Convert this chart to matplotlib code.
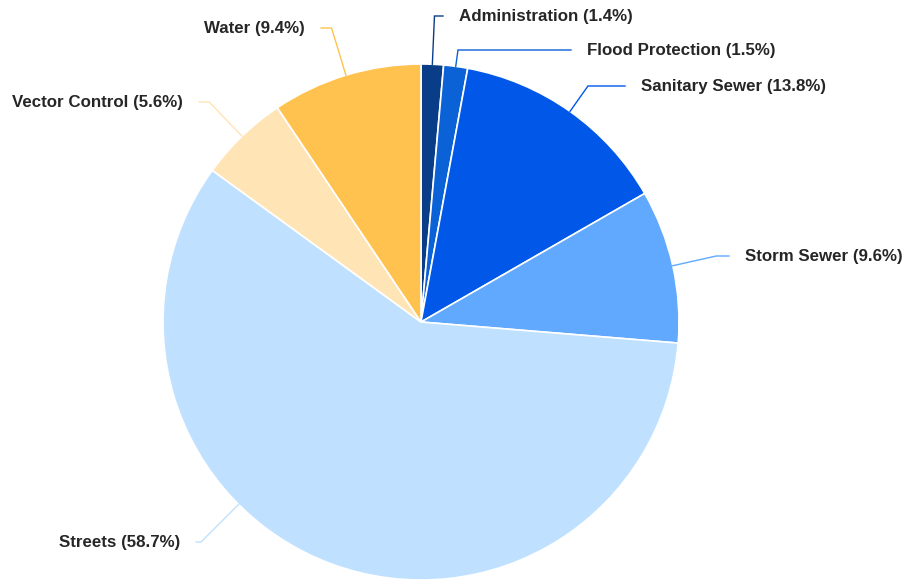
import numpy as np
import matplotlib
matplotlib.use("Agg")
import matplotlib.pyplot as plt

# data
categories = ["Administration", "Flood Protection", "Sanitary Sewer", "Storm Sewer",
              "Streets", "Vector Control", "Water"]
shares = [1.4, 1.5, 13.8, 9.6, 58.7, 5.6, 9.4]
colors = ["#093d88", "#0b62d6", "#0057e8", "#60a9ff", "#bfe1ff", "#ffe4b6", "#ffc24f"]

# layout of the labels (pixel y of label row, side, leader angle override)
label_y = [16, 50, 86, 256, 542, 102, 28]
label_x = [459, 587, 641, 745, 180, 183, 305]
side = ["right", "right", "right", "right", "left", "left", "left"]
leader_angle = [None, None, None, None, 225.0, None, None]

W, H = 909, 585
cx, cy, r = 421, H - 322, 258

fig = plt.figure(figsize=(W / 100, H / 100), dpi=100)
ax = fig.add_axes([0, 0, 1, 1])

ax.pie(shares, colors=colors, startangle=90, counterclock=False,
       center=(cx, cy), radius=r, frame=True,
       wedgeprops={"edgecolor": "white", "linewidth": 1.2})
ax.set_xlim(0, W)
ax.set_ylim(0, H)
ax.set_aspect("equal")
ax.axis("off")

cum = np.cumsum([0] + shares[:-1])
for i, name in enumerate(categories):
    ang = (cum[i] + shares[i] / 2) / 100 * 360
    if leader_angle[i] is not None:
        ang = leader_angle[i]
    t = np.deg2rad(ang)
    dx, dy = np.sin(t), np.cos(t)  # clockwise from 12 o'clock, y up
    x0, y0 = cx + r * dx, cy + r * dy
    ty = H - label_y[i]
    # go radially until label row
    k = (ty - y0) / dy
    x1 = x0 + k * dx
    if side[i] == "right":
        x2 = label_x[i] - 16
        ha = "left"
    else:
        x2 = label_x[i] + 16
        ha = "right"
    ax.plot([x0, x1, x2], [y0, ty, ty], color=colors[i], lw=1.0,
            solid_joinstyle="miter")
    ax.text(label_x[i], H - label_y[i], f"{name} ({shares[i]}%)", ha=ha, va="center",
            fontsize=12.2, fontweight="bold", family="Liberation Sans", color="#262626")

fig.savefig("out.png", dpi=100)
